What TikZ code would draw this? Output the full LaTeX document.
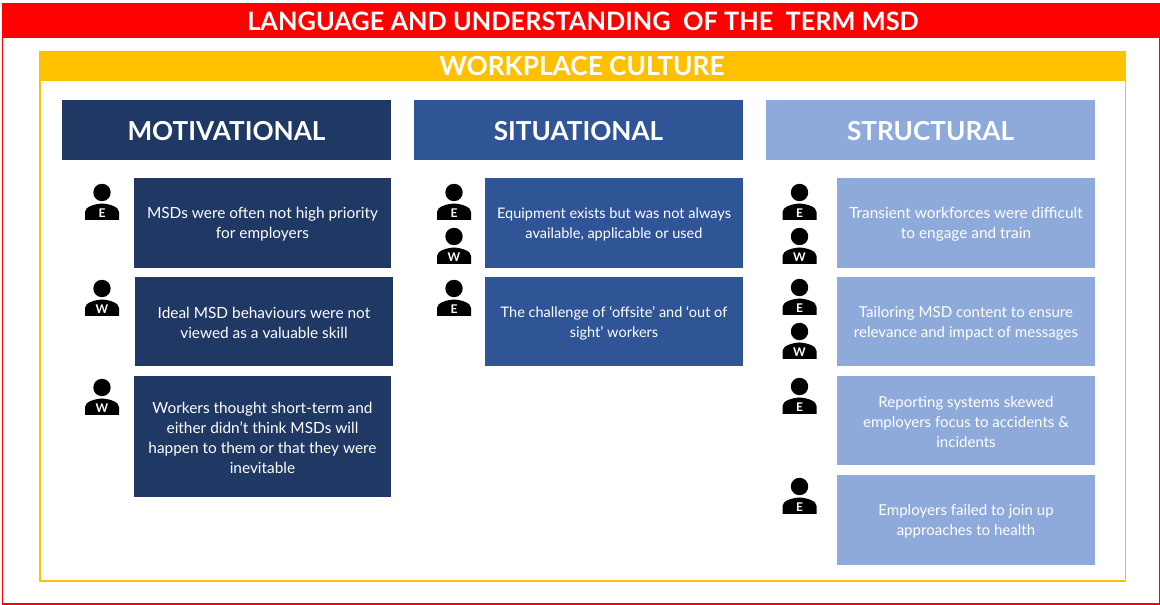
\documentclass[tikz,border=0pt]{standalone}
\usepackage{fontspec}
\setmainfont{Lato}
\definecolor{cdark}{HTML}{1F3864}
\definecolor{cmid}{HTML}{2F5597}
\definecolor{clight}{HTML}{8EAADB}
\definecolor{cyel}{HTML}{FFC000}
\definecolor{cred}{HTML}{FF0000}
\tikzset{
  x=0.75pt,y=-0.75pt,
  bar/.style={inner sep=0pt,text=white,font=\bfseries\fontsize{19}{22}\selectfont},
  head/.style={inner sep=0pt,text=white,yshift=-0.5pt,font=\bfseries\fontsize{19.6}{22}\selectfont},
  item/.style={inner sep=0pt,text=white,align=center,yshift=-1.1pt,font=\fontsize{11.3}{15}\selectfont},
  itemm/.style={item,font=\fontsize{11.55}{15}\selectfont},
  items/.style={item,font=\fontsize{10.9}{15}\selectfont},
  persontag/.style={inner sep=0pt,text=white,font=\bfseries\fontsize{9}{9}\selectfont},
  pics/person/.style={code={
    \fill[black] (0,9.5) circle[radius=8.7];
    \fill[black] (-17,37) -- (-17,29) .. controls (-17,24) and (-8,21) .. (0,20.5) .. controls (8,21) and (17,24) .. (17,29) -- (17,37) -- cycle;
    \node[persontag] (#1) at (0,30.5) {#1};
  }}
}
\newcommand{\boxat}[7]{%
  \fill[#1] (#2,#3) rectangle (#4,#5);
  \node[#6] (#7) at ({(#2+#4)/2},{(#3+#5)/2}) }
\begin{document}
\begin{tikzpicture}
\useasboundingbox (0,0) rectangle (1160,605);
% frames
\draw[cred,line width=1pt] (2.5,3.5) rectangle (1160,604);
\fill[cred] (2,3) rectangle (1160,38.5);
\node[bar] (title) at (583,21.5) {LANGUAGE AND UNDERSTANDING\ \ OF THE\ \ TERM MSD};
\draw[cyel,line width=1.1pt] (39.9,51.5) rectangle (1125.5,581);
\fill[cyel] (39,51) rectangle (1126,81);
\node[bar,font=\bfseries\fontsize{19.7}{22}\selectfont] (culture) at (582,66) {WORKPLACE CULTURE};
% headers
\boxat{cdark}{62}{100}{391}{160}{head}{h1}{MOTIVATIONAL};
\boxat{cmid}{414}{100}{743}{160}{head}{h2}{SITUATIONAL};
\boxat{clight}{766}{100}{1095}{160}{head}{h3}{STRUCTURAL};
% motivational
\boxat{cdark}{134}{178}{391}{268}{itemm}{m1}{MSDs were often not high priority\\for employers};
\boxat{cdark}{135}{277}{393}{366}{itemm}{m2}{Ideal MSD behaviours were not\\viewed as a valuable skill};
\boxat{cdark}{134}{376}{391}{497}{itemm}{m3}{Workers thought short-term and\\either didn't think MSDs will\\happen to them or that they were\\inevitable};
% situational
\boxat{cmid}{485}{178}{743}{268}{items}{s1}{Equipment exists but was not always\\available, applicable or used};
\boxat{cmid}{485}{277}{743}{366}{items}{s2}{The challenge of ‘offsite’ and ‘out of\\sight’ workers};
% structural
\boxat{clight}{837}{178}{1095}{268}{itemm}{t1}{Transient workforces were difficult\\to engage and train};
\boxat{clight}{837}{277}{1095}{366}{item}{t2}{Tailoring MSD content to ensure\\relevance and impact of messages};
\boxat{clight}{837}{376}{1095}{465}{item}{t3}{Reporting systems skewed\\employers focus to accidents \&\\incidents};
\boxat{clight}{837}{475}{1095}{565}{item}{t4}{Employers failed to join up\\approaches to health};
% people
\pic at (102,183) {person=E};
\pic at (102,279) {person=W};
\pic at (102,378) {person=W};
\pic at (454,183) {person=E};
\pic at (454,227) {person=W};
\pic at (454,279) {person=E};
\pic at (799.5,183) {person=E};
\pic at (799.5,227) {person=W};
\pic at (799.5,278) {person=E};
\pic at (799.5,322) {person=W};
\pic at (799.5,377) {person=E};
\pic at (799.5,477) {person=E};
\end{tikzpicture}
\end{document}
